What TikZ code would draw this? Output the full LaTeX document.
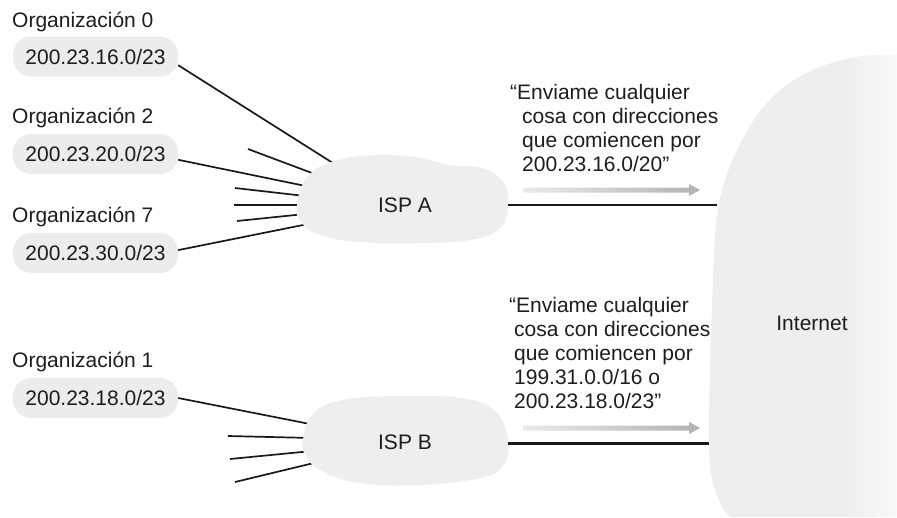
\documentclass[tikz,border=0pt]{standalone}
\usepackage{fontspec}
\setmainfont{Liberation Sans}
\definecolor{txt}{HTML}{1E1C1D}
\definecolor{cloudc}{HTML}{EEEEEE}
\definecolor{pillc}{HTML}{ECECEC}
\definecolor{arrL}{HTML}{EAEAEA}
\definecolor{arrR}{HTML}{B2B2B2}
\begin{document}
\begin{tikzpicture}[x=1pt,y=-1pt,
  every node/.style={font=\fontsize{21pt}{24pt}\selectfont, text=txt, inner sep=0pt},
  lbl/.style={anchor=base west},
  pill/.style={fill=pillc, rounded corners=18pt, minimum width=165pt, minimum height=40pt},
  wire/.style={draw=black!90, line width=1.7pt},
  cloudshape/.style={fill=cloudc},
  says/.style={anchor=north west, align=left},
  grayarrow/.style={left color=arrL, right color=arrR}
]
\useasboundingbox (0,0) rectangle (897,517);

% Internet
\begin{scope}
  \clip (897,55) .. controls (830,52) and (780,80) .. (755,118)
        .. controls (735,150) and (718,185) .. (715,235)
        .. controls (712,300) and (709,380) .. (709,440)
        .. controls (709,480) and (715,500) .. (730,517) -- (897,517) -- cycle;
  \fill[cloudc] (700,40) rectangle (897,517);
  \shade[left color=cloudc, right color=white!70!cloudc] (845,40) rectangle (897,517);
\end{scope}
\node (net) at (812,323) {Internet};
\coordinate (netA) at (717,205);
\coordinate (netB) at (709,443);

% Organisation labels and pills
\node[lbl] (o0) at (12,27) {Organización 0};
\node[pill] (p0) at (95.5,56.5) {200.23.16.0/23};
\node[lbl] (o2) at (12,123) {Organización 2};
\node[pill] (p2) at (95.5,154) {200.23.20.0/23};
\node[lbl] (o7) at (12,222) {Organización 7};
\node[pill] (p7) at (95.5,253) {200.23.30.0/23};
\node[lbl] (o1) at (12,367) {Organización 1};
\node[pill] (p1) at (95.5,398) {200.23.18.0/23};

% ISP A entry points and stub ends
\coordinate (a1) at (336,165);
\coordinate (a2) at (308,186.5);
\coordinate (a3) at (313,223);
\coordinate (s1a) at (248,149); \coordinate (s1b) at (320,176);
\coordinate (s2a) at (235,188); \coordinate (s2b) at (305,196);
\coordinate (s3a) at (234,205); \coordinate (s3b) at (305,205);
\coordinate (s4a) at (237,221); \coordinate (s4b) at (305,214);
% ISP B
\coordinate (b1) at (315,425);
\coordinate (t1a) at (228,436); \coordinate (t1b) at (312,438);
\coordinate (t2a) at (230,459); \coordinate (t2b) at (312,451);
\coordinate (t3a) at (235,482); \coordinate (t3b) at (318,462);

\draw[wire] (p0.-6) -- (a1);
\draw[wire] (p2.-4) -- (a2);
\draw[wire] (p7.2) -- (a3);
\draw[wire] (s1a) -- (s1b);
\draw[wire] (s2a) -- (s2b);
\draw[wire] (s3a) -- (s3b);
\draw[wire] (s4a) -- (s4b);
\draw[wire] (p1.east) -- (b1);
\draw[wire] (t1a) -- (t1b);
\draw[wire] (t2a) -- (t2b);
\draw[wire] (t3a) -- (t3b);

% ISP clouds
\fill[cloudshape] plot[smooth cycle, tension=0.7] coordinates {
  (297,205) (308,176) (338,160) (380,155) (420,158) (448,165) (482,168)
  (503,182) (508,205) (500,228) (470,240) (420,243) (360,242) (320,235) (301,222)};
\fill[cloudshape] plot[smooth cycle, tension=0.7] coordinates {
  (303,440) (313,414) (342,400) (400,396) (460,398) (494,410) (508,440)
  (503,466) (480,478) (420,485) (360,483) (322,471) (306,456)};
\node (ispA) at (405,205) {ISP A};
\node (ispB) at (405,442) {ISP B};
\coordinate (aE) at (508,205);
\coordinate (bE) at (508,443);

% Links to Internet
\draw[draw=black!90, line width=1.8pt] (aE) -- (netA);
\draw[draw=black!90, line width=3pt] (bE) -- (netB);

% Advertisement arrows
\shade[grayarrow] (523,187.5) -- (689,187.5) -- (689,184) -- (700,190) -- (689,196)
  -- (689,192.5) -- (523,192.5) -- cycle;
\shade[grayarrow] (523,425.5) -- (689,425.5) -- (689,422) -- (700,428) -- (689,434)
  -- (689,430.5) -- (523,430.5) -- cycle;

% Advertisement texts
\node[says] (msgA) at (510,84.5) {“Enviame cualquier\\\hspace*{12pt}cosa con direcciones\\\hspace*{12pt}que comiencen por\\\hspace*{12pt}200.23.16.0/20”};
\node[says] (msgB) at (509,297.5) {“Enviame cualquier\\\hspace*{5pt}cosa con direcciones\\\hspace*{5pt}que comiencen por\\\hspace*{5pt}199.31.0.0/16 o\\\hspace*{5pt}200.23.18.0/23”};
\end{tikzpicture}
\end{document}
